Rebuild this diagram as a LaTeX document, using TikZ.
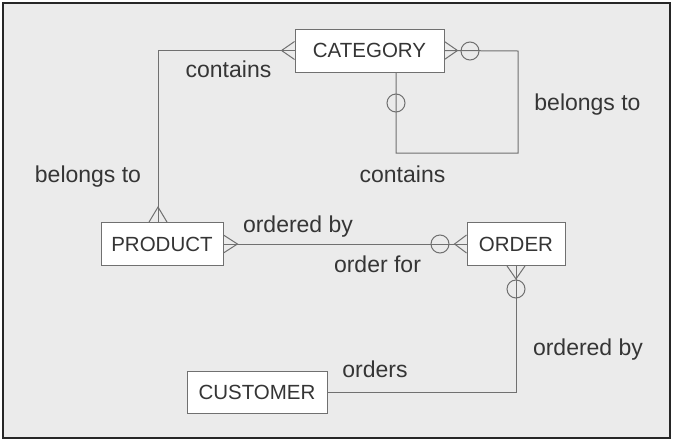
\documentclass[tikz,border=0pt]{standalone}
\usepackage{fontspec}
\setmainfont{Liberation Sans}
\usetikzlibrary{calc}
\definecolor{paper}{HTML}{EBEBEB}
\definecolor{ink}{HTML}{353535}
\definecolor{wire}{HTML}{707070}
\tikzset{
	entity/.style={draw=wire, line width=0.9pt, fill=white, text=ink, minimum height=43, inner sep=0pt, font=\fontsize{20.5}{24}\selectfont},
	role/.style={anchor=base, text=ink, inner sep=0pt, font=\fontsize{23}{27}\selectfont},
	link/.style={draw=wire, line width=1pt},
	opt/.style={circle, draw=wire, line width=1pt, minimum size=18, inner sep=0pt}
}
\begin{document}
\begin{tikzpicture}[x=1pt, y=-1pt]
		\useasboundingbox (0,0) rectangle (677,445);
		\fill[white] (0,0) rectangle (677,445);
		\draw[fill=paper, draw=black!85, line width=2.5pt] (3,3) rectangle (670,438);

		\node[entity, minimum width=149] (cat) at (369.5,50.5) {CATEGORY};
		\node[entity, minimum width=122] (prod) at (162,244) {PRODUCT};
		\node[entity, minimum width=98] (ord) at (516,244) {ORDER};
		\node[entity, minimum width=140, minimum height=42] (cust) at (257,392) {CUSTOMER};

		% product -- category
		\draw[link] (cat.west) -| ($(prod.north)+(-4,0)$);
		\draw[link] ($(cat.west)+(0,-9)$) -- ++(-13,9) -- ++(13,9);
		\draw[link] ($(prod.north)+(-13,0)$) -- ++(9,-15) -- ++(9,15);
		\node[role] (l1) at (228.5,77) {contains};
		\node[role] (l2) at (88,182) {belongs to};

		% category -- category
		\coordinate (c1) at (518,51);
		\coordinate (c2) at (518,153);
		\coordinate (c3) at (396,153);
		\draw[link] (cat.east) -- (c1) -- (c2) -- (c3) -- ($(cat.south)+(26.5,0)$);
		\draw[link] ($(cat.east)+(0,-9)$) -- ++(13,9) -- ++(-13,9);
		\node[opt] (o1) at (470,51) {};
		\node[opt] (o2) at (396,103) {};
		\node[role] (l3) at (587.5,110) {belongs to};
		\node[role] (l4) at (402.5,182) {contains};

		% product -- order
		\draw[link] (prod.east) -- (ord.west);
		\draw[link] ($(prod.east)+(0,-9)$) -- ++(14,9) -- ++(-14,9);
		\draw[link] ($(ord.west)+(0,-9)$) -- ++(-12,9) -- ++(12,9);
		\node[opt] (o3) at (440,244) {};
		\node[role] (l5) at (298,232) {ordered by};
		\node[role] (l6) at (377.5,272) {order for};

		% order -- customer
		\draw[link] (ord.south) |- (cust.east);
		\draw[link] ($(ord.south)+(-9,0)$) -- ++(9,13) -- ++(9,-13);
		\node[opt] (o4) at (516,289) {};
		\node[role] (l7) at (375,377) {orders};
		\node[role] (l8) at (588,355) {ordered by};
	\end{tikzpicture}
\end{document}
